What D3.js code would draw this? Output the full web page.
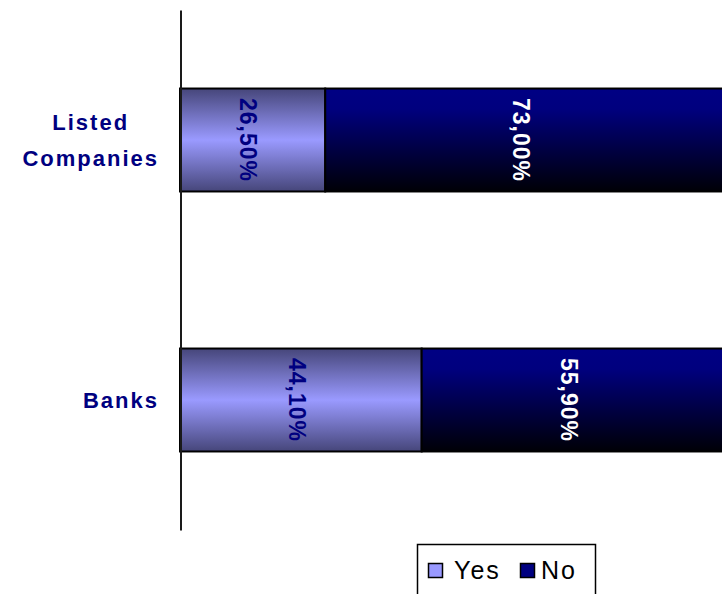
<!DOCTYPE html>
<html>
<head>
<meta charset="utf-8">
<script src="https://cdn.jsdelivr.net/npm/d3@7"></script>
<style>
  html, body { margin: 0; padding: 0; background: #fff; overflow: hidden; }
  svg { display: block; font-family: "Liberation Sans", Arial, sans-serif; }
</style>
</head>
<body>
<svg id="chart" width="722" height="594"></svg>
<script>
// Survey answers per respondent group, in percent
const categories = ["Listed Companies", "Banks"];
const seriesNames = ["Yes", "No"];
const yesValues = [26.5, 44.1];
const noValues = [73.0, 55.9];
const valueLabels = {
  Yes: ["26,50%", "44,10%"],
  No: ["73,00%", "55,90%"]
};

const svg = d3.select("#chart");
const defs = svg.append("defs");

// Yes: dark edges, light lavender centre
const gYes = defs.append("linearGradient").attr("id", "gradYes")
  .attr("x1", 0).attr("y1", 0).attr("x2", 0).attr("y2", 1);
[[0, "#46467a"], [0.5, "#9a9aff"], [1, "#46467a"]].forEach(([o, c]) =>
  gYes.append("stop").attr("offset", o).attr("stop-color", c));

// No: navy fading to black toward the bottom
const gNo = defs.append("linearGradient").attr("id", "gradNo")
  .attr("x1", 0).attr("y1", 0).attr("x2", 0).attr("y2", 1);
[[0, "#000084"], [0.2, "#00007e"], [1, "#000006"]].forEach(([o, c]) =>
  gNo.append("stop").attr("offset", o).attr("stop-color", c));

const x = d3.scaleLinear().domain([0, 100]).range([180, 728]);
const y = d3.scaleBand().domain(categories).range([10, 530])
  .paddingInner(0.604).paddingOuter(0.302);

const rows = categories.map((c, i) => ({ cat: c, Yes: yesValues[i], No: noValues[i] }));
const stacked = d3.stack().keys(seriesNames)(rows);
const fills = { Yes: "url(#gradYes)", No: "url(#gradNo)" };
const labelColors = { Yes: "#000080", No: "#ffffff" };

const layers = svg.append("g").selectAll("g")
  .data(stacked).join("g");

layers.selectAll("rect")
  .data(d => d.map(p => ({ key: d.key, p })))
  .join("rect")
  .attr("x", d => x(d.p[0]))
  .attr("y", d => y(d.p.data.cat))
  .attr("width", d => x(d.p[1]) - x(d.p[0]))
  .attr("height", y.bandwidth())
  .attr("fill", d => fills[d.key])
  .attr("stroke", "#000")
  .attr("stroke-width", 2);

// Rotated value labels inside each segment
layers.selectAll("text")
  .data(d => d.map((p, i) => ({ key: d.key, p, i })))
  .join("text")
  .attr("transform", d => {
    const cx = (x(d.p[0]) + Math.min(x(d.p[1]), 725)) / 2 - 4;
    const cy = y(d.p.data.cat) + y.bandwidth() / 2;
    return `translate(${cx},${cy}) rotate(90)`;
  })
  .attr("text-anchor", "middle")
  .attr("dy", "0.36em")
  .attr("font-size", 23)
  .attr("font-weight", "bold")
  .attr("letter-spacing", 1)
  .attr("fill", d => labelColors[d.key])
  .text(d => valueLabels[d.key][d.i]);

// Category axis
const axis = svg.append("g")
  .attr("transform", "translate(180.5,0)")
  .call(d3.axisLeft(y).tickSize(0).tickSizeOuter(0).tickFormat(""));
axis.select(".domain").attr("stroke", "#1a1a1a").attr("stroke-width", 2);

const catLabels = svg.append("g")
  .attr("font-size", 22)
  .attr("font-weight", "bold")
  .attr("letter-spacing", 2)
  .attr("fill", "#000080");

const labelRight = 159;
const lineGap = 36;
categories.forEach(c => {
  const words = c.split(" ");
  const cy = y(c) + y.bandwidth() / 2;
  const t = catLabels.append("text").attr("text-anchor", "middle");
  const tspans = words.map((w, i) => t.append("tspan")
    .attr("y", cy + (i - (words.length - 1) / 2) * lineGap)
    .attr("dy", "0.36em")
    .text(w));
  const widths = tspans.map(ts => ts.node().getComputedTextLength());
  const maxW = d3.max(widths);
  tspans.forEach(ts => ts.attr("x", labelRight - maxW / 2));
});

// Legend
const legend = svg.append("g");
legend.append("rect")
  .attr("x", 417.5).attr("y", 544.5)
  .attr("width", 178).attr("height", 60)
  .attr("fill", "#fff").attr("stroke", "#000").attr("stroke-width", 1.5);

const legendItems = [
  { name: seriesNames[0], color: "#9999ff", sx: 428, tx: 454 },
  { name: seriesNames[1], color: "#000080", sx: 520, tx: 541 }
];
legendItems.forEach(it => {
  legend.append("rect")
    .attr("x", it.sx + 0.5).attr("y", 563.5)
    .attr("width", 14).attr("height", 14)
    .attr("fill", it.color).attr("stroke", "#000").attr("stroke-width", 1.5);
  legend.append("text")
    .attr("x", it.tx).attr("y", 579)
    .attr("font-size", 25)
    .attr("letter-spacing", 2)
    .attr("fill", "#000")
    .text(it.name);
});
</script>
</body>
</html>
